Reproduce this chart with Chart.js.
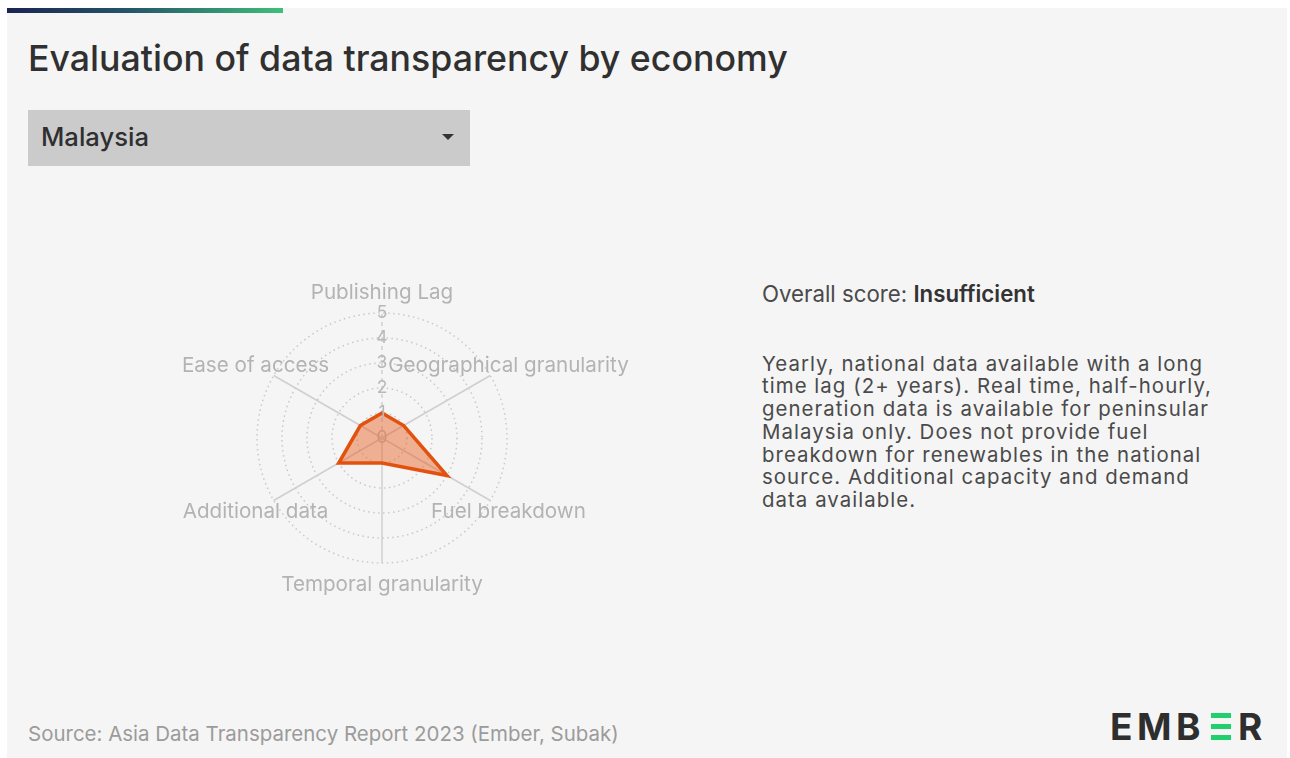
<!DOCTYPE html>
<html>
<head>
<meta charset="utf-8">
<script src="https://cdn.jsdelivr.net/npm/chart.js@4.4.1/dist/chart.umd.min.js"></script>
<style>
  html, body { margin: 0; padding: 0; background: #ffffff; }
  body { width: 1290px; height: 758px; position: relative; overflow: hidden; font-family: Inter, "Noto Sans", sans-serif; }
  #panel { position: absolute; left: 7px; top: 8px; width: 1280px; height: 760px; background: #f5f5f5; }
  #topbar { position: absolute; left: 7px; top: 8px; width: 276px; height: 5px;
            background: linear-gradient(90deg, #1b2452 0%, #24566a 45%, #3fbf7a 100%); }
  .txt { position: absolute; white-space: nowrap; line-height: 1; }
  #title { color: #303030; font-weight: 500; }
  #dropdown { position: absolute; left: 28px; top: 110px; width: 442px; height: 56px; background: #cbcbcb; }
  #ddText { color: #2f2f2f; font-weight: 500; }
  #caret { position: absolute; left: 442px; top: 134px; width: 0; height: 0;
           border-left: 6px solid transparent; border-right: 6px solid transparent; border-top: 6px solid #333; }
  #score { color: #4a4a4a; }
  #score b { color: #333; font-weight: 600; }
  #desc { position: absolute; white-space: nowrap; color: #4a4a4a; }
  #desc div { height: 22.75px; line-height: 22.75px; overflow: visible; }
  #source { color: #9b9b9b; }
  #chartCanvas { position: absolute; left: 132px; top: 273px; }
  #logo { position: absolute; left: 1110px; top: 707px; height: 38px; display: flex; align-items: center;
          font-weight: 700; color: #2e2e2e; font-size: 37px; line-height: 1; }
  #logo .l { display: inline-block; }
  #bars { position: relative; width: 20px; height: 27px; margin: 0 7px 0 6px; }
  #bars span { position: absolute; left: 0; width: 20px; height: 5px; background: #22cf6f; }
</style>
</head>
<body>
<div id="panel"></div>
<div id="topbar"></div>
<div id="title" class="txt"></div>
<div id="dropdown"></div>
<div id="ddText" class="txt"></div>
<div id="caret"></div>
<div id="score" class="txt"></div>
<div id="desc"></div>
<div id="source" class="txt"></div>
<canvas id="chartCanvas" width="500" height="330"></canvas>
<div id="logo"><span class="l" id="lg1"></span><div id="bars"><span style="top:0"></span><span style="top:11px"></span><span style="top:22px"></span></div><span class="l" id="lg2"></span></div>

<script>
// ---------- data ----------
const titleText = 'Evaluation of data transparency by economy';
const economy = 'Malaysia';
const categories = ['Publishing Lag', 'Geographical granularity', 'Fuel breakdown', 'Temporal granularity', 'Additional data', 'Ease of access'];
const scores = [1, 1, 3, 1, 2, 1];
const tickValues = [0, 1, 2, 3, 4, 5];
const scoreLabel = 'Overall score: ';
const scoreValue = 'Insufficient';
const descriptionLines = [
  'Yearly, national data available with a long',
  'time lag (2+ years). Real time, half-hourly,',
  'generation data is available for peninsular',
  'Malaysia only. Does not provide fuel',
  'breakdown for renewables in the national',
  'source. Additional capacity and demand',
  'data available.'
];
const sourceText = 'Source: Asia Data Transparency Report 2023 (Ember, Subak)';
const logoParts = ['EMB', 'R'];

// ---------- text layout ----------
function place(el, x, cy, targetW) {
  el.style.fontSize = '100px';
  el.style.left = x + 'px';
  const w = el.getBoundingClientRect().width;
  const fs = 100 * targetW / w;
  el.style.fontSize = fs + 'px';
  el.style.top = (cy - fs / 2) + 'px';
  return fs;
}
const T = document.getElementById('title'); T.textContent = titleText;
place(T, 28, 59, 760);
const D = document.getElementById('ddText'); D.textContent = economy;
place(D, 41, 136.5, 108);
const S = document.getElementById('score');
S.appendChild(document.createTextNode(scoreLabel));
const b = document.createElement('b'); b.textContent = scoreValue; S.appendChild(b);
place(S, 762, 294, 273);
const SRC = document.getElementById('source'); SRC.textContent = sourceText;
place(SRC, 28, 734, 591);

// description block: smaller glyphs (cap height ~15px), widened with letter spacing
const DESC = document.getElementById('desc');
descriptionLines.forEach((t) => {
  const d = document.createElement('div'); d.textContent = t; DESC.appendChild(d);
});
(function () {
  const fs = 20.4;
  const probe = document.createElement('span');
  probe.style.cssText = 'position:absolute;white-space:nowrap;visibility:hidden;font-family:Inter;font-size:' + fs + 'px';
  probe.textContent = descriptionLines[2];
  document.body.appendChild(probe);
  const w = probe.getBoundingClientRect().width;
  probe.remove();
  const ls = (447 - w) / descriptionLines[2].length;
  const lh = 22.75;
  DESC.style.fontSize = fs + 'px';
  DESC.style.letterSpacing = ls + 'px';
  DESC.style.left = '762px';
  DESC.style.top = (364 - lh / 2) + 'px';
})();

document.getElementById('lg1').textContent = logoParts[0];
document.getElementById('lg2').textContent = logoParts[1];
document.getElementById('lg1').style.letterSpacing = '4.5px';

// ---------- chart ----------
const labelColor = '#b3b3b3';
const tickFontSize = 17.5;
const pointLabelPlugin = {
  id: 'centeredPointLabels',
  afterDraw(chart) {
    const scale = chart.scales.r;
    const ctx = chart.ctx;
    ctx.save();
    ctx.font = '100px Inter';
    const base = ctx.measureText(categories[0]).width;
    const fs = 100 * 142.5 / base;
    ctx.font = fs + 'px Inter';
    ctx.fillStyle = labelColor;
    ctx.textAlign = 'center';
    ctx.textBaseline = 'alphabetic';
    const dist = scale.drawingArea * 146 / 125;
    categories.forEach((c, i) => {
      const p = scale.getPointPosition(i, dist);
      ctx.fillText(c, p.x, p.y + fs * 0.727 / 2);
    });
    ctx.restore();
  },
  beforeDatasetsDraw(chart) {
    const scale = chart.scales.r;
    const ctx = chart.ctx;
    ctx.save();
    ctx.font = tickFontSize + 'px Inter';
    ctx.fillStyle = '#bdbdbd';
    ctx.textAlign = 'center';
    ctx.textBaseline = 'middle';
    const p = scale.getPointPositionForValue(0, tickValues[0]);
    ctx.fillText(String(tickValues[0]), p.x, p.y);
    ctx.restore();
  }
};

// radial scale reserves (tick font size + backdrop padding)/2 on each side
const tickPad = (tickFontSize + 4) / 2;

new Chart(document.getElementById('chartCanvas'), {
  type: 'radar',
  data: {
    labels: categories,
    datasets: [{
      label: economy,
      data: scores,
      backgroundColor: 'rgba(232, 96, 36, 0.47)',
      borderColor: '#e2520f',
      borderWidth: 3.5,
      pointRadius: 0,
      pointHoverRadius: 0,
      borderJoinStyle: 'miter'
    }]
  },
  options: {
    responsive: false,
    animation: false,
    devicePixelRatio: 1,
    layout: { padding: { left: 125 - tickPad, right: 125 - tickPad, top: 40 - tickPad, bottom: 40 - tickPad } },
    plugins: { legend: { display: false }, tooltip: { enabled: false } },
    scales: {
      r: {
        min: tickValues[0],
        max: tickValues[tickValues.length - 1],
        ticks: {
          stepSize: 1,
          showLabelBackdrop: false,
          color: '#b8b8b8',
          font: { family: 'Inter', size: tickFontSize },
          z: 1
        },
        grid: {
          circular: true,
          color: '#c9c9c9',
          lineWidth: 1.5
        },
        border: { dash: [1.5, 3.5] },
        angleLines: {
          color: '#cfcfcf',
          lineWidth: 1.5,
          borderDash: (ctx) => ctx.index === 0 ? [4, 4] : []
        },
        pointLabels: { display: false }
      }
    }
  },
  plugins: [pointLabelPlugin]
});
</script>
</body>
</html>
